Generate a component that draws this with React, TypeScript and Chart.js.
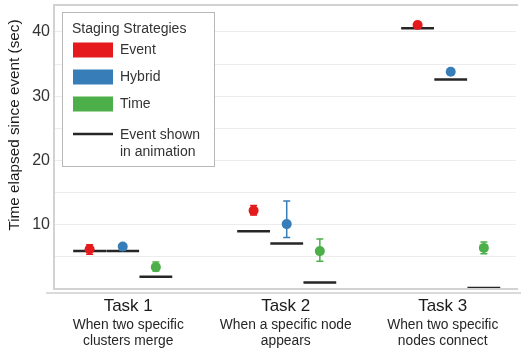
import React, { useEffect, useRef } from "react";
import { Chart, registerables } from "chart.js";

Chart.register(...registerables);

const categories = ["Task 1", "Task 2", "Task 3"];
const subtitles = [
  ["When two specific", "clusters merge"],
  ["When a specific node", "appears"],
  ["When two specific", "nodes connect"],
];
const strategies = ["Event", "Hybrid", "Time"];
const strategyColors = ["#E41A1C", "#377EB8", "#4DAF4A"];

const eventMean = [6.2, 12.2, 41.1];
const eventLow = [5.4, 11.5, 40.7];
const eventHigh = [6.9, 13.0, 41.5];

const hybridMean = [6.6, 10.1, 33.8];
const hybridLow = [6.3, 8.0, 33.5];
const hybridHigh = [7.0, 13.7, 34.1];

const timeMean = [3.4, 5.9, 6.4];
const timeLow = [2.8, 4.3, 5.5];
const timeHigh = [4.2, 7.8, 7.3];

const shownEvent = [5.9, 9.0, 40.6];
const shownHybrid = [5.9, 7.1, 32.6];
const shownTime = [1.9, 1.0, 0.15];

const yTickValues = [5, 10, 15, 20, 25, 30, 35, 40];
const yMin = 0;
const yMax = 44.2;

const legendTitle = "Staging Strategies";
const lineLegendLabel = ["Event shown", "in animation"];
const yTitle = "Time elapsed since event (sec)";

const means = [eventMean, hybridMean, timeMean];
const lows = [eventLow, hybridLow, timeLow];
const highs = [eventHigh, hybridHigh, timeHigh];
const shown = [shownEvent, shownHybrid, shownTime];

const DODGE = [-0.202, 0, 0.202];
const HALF = 0.1;
const FONT = "'Liberation Sans', Arial, Helvetica, sans-serif";
const labelShift = [5.5, -1, -8];

const customPlugin = {
  id: "custom",
  beforeDatasetsDraw(chart: any) {
    const ctx = chart.ctx;
    const xs = chart.scales.x;
    const ys = chart.scales.y;
    ctx.save();
    ctx.lineWidth = 1.5;
    for (let s = 0; s < 3; s++) {
      ctx.strokeStyle = strategyColors[s];
      for (let i = 0; i < categories.length; i++) {
        const x = xs.getPixelForValue(i + DODGE[s]);
        const y1 = ys.getPixelForValue(lows[s][i]);
        const y2 = ys.getPixelForValue(highs[s][i]);
        ctx.beginPath();
        ctx.moveTo(x, y1);
        ctx.lineTo(x, y2);
        ctx.moveTo(x - 3.5, y1);
        ctx.lineTo(x + 3.5, y1);
        ctx.moveTo(x - 3.5, y2);
        ctx.lineTo(x + 3.5, y2);
        ctx.stroke();
      }
    }
    ctx.restore();
  },
  afterDraw(chart: any) {
    const ctx = chart.ctx;
    const a = chart.chartArea;
    const xs = chart.scales.x;
    ctx.save();
    // panel border
    ctx.strokeStyle = "#d2d2d2";
    ctx.lineWidth = 2;
    ctx.beginPath();
    ctx.moveTo(a.right + 2, a.top);
    ctx.lineTo(a.left, a.top);
    ctx.lineTo(a.left, a.bottom);
    ctx.lineTo(a.right + 2, a.bottom);
    ctx.stroke();
    // axis line
    ctx.strokeStyle = "#cfcfcf";
    ctx.lineWidth = 1.5;
    ctx.beginPath();
    ctx.moveTo(46, a.bottom + 4);
    ctx.lineTo(chart.width, a.bottom + 4);
    ctx.stroke();

    // y title
    ctx.fillStyle = "#1a1a1a";
    ctx.font = `15.3px ${FONT}`;
    ctx.textAlign = "center";
    ctx.textBaseline = "middle";
    ctx.save();
    ctx.translate(15, 125);
    ctx.rotate(-Math.PI / 2);
    ctx.fillText(yTitle, 0, 0);
    ctx.restore();

    // x labels
    for (let i = 0; i < categories.length; i++) {
      const x = xs.getPixelForValue(i) + labelShift[i];
      ctx.textBaseline = "alphabetic";
      ctx.fillStyle = "#1a1a1a";
      ctx.font = `17px ${FONT}`;
      ctx.fillText(categories[i], x, a.bottom + 22);
      ctx.fillStyle = "#262626";
      ctx.font = `13.8px ${FONT}`;
      subtitles[i].forEach((t, k) => ctx.fillText(t, x, a.bottom + 40 + k * 16));
    }

    // legend
    const lx = 62, ly = 12, lw = 152, lh = 154;
    ctx.fillStyle = "#ffffff";
    ctx.fillRect(lx, ly, lw, lh);
    ctx.strokeStyle = "#b8b8b8";
    ctx.lineWidth = 1;
    ctx.strokeRect(lx + 0.5, ly + 0.5, lw, lh);
    ctx.textAlign = "left";
    ctx.textBaseline = "middle";
    ctx.fillStyle = "#333333";
    ctx.font = `14px ${FONT}`;
    ctx.fillText(legendTitle, lx + 10, ly + 17);
    for (let s = 0; s < strategies.length; s++) {
      const cy = ly + 38 + s * 27;
      ctx.fillStyle = strategyColors[s];
      ctx.fillRect(lx + 11, cy - 7.5, 40, 15);
      ctx.fillStyle = "#333333";
      ctx.fillText(strategies[s], lx + 58, cy);
    }
    ctx.strokeStyle = "#262626";
    ctx.lineWidth = 2.5;
    ctx.beginPath();
    ctx.moveTo(lx + 11, ly + 122);
    ctx.lineTo(lx + 51, ly + 122);
    ctx.stroke();
    ctx.fillStyle = "#333333";
    ctx.fillText(lineLegendLabel[0], lx + 58, ly + 123);
    ctx.fillText(lineLegendLabel[1], lx + 58, ly + 140);
    ctx.restore();
  },
};

export default function App() {
  const ref = useRef<HTMLCanvasElement | null>(null);
  useEffect(() => {
    if (!ref.current) return;
    const pointSets = strategies.map((name, s) => ({
      label: name,
      data: means[s].map((v, i) => ({ x: i + DODGE[s], y: v })),
      backgroundColor: strategyColors[s],
      borderColor: strategyColors[s],
      pointRadius: 5,
      pointBorderWidth: 0,
      order: 0,
    }));
    const segs: any[] = [];
    for (let s = 0; s < 3; s++) {
      for (let i = 0; i < categories.length; i++) {
        const c = i + DODGE[s];
        segs.push({ x: c - HALF, y: shown[s][i] });
        segs.push({ x: c + HALF, y: shown[s][i] });
        segs.push({ x: c + HALF + 0.001, y: null });
      }
    }
    const chart = new Chart(ref.current, {
      type: "scatter",
      data: {
        datasets: [
          ...pointSets,
          {
            label: "Event shown in animation",
            data: segs,
            showLine: true,
            spanGaps: false,
            borderColor: "#262626",
            borderWidth: 2.5,
            pointRadius: 0,
            order: 10,
          } as any,
        ],
      },
      options: {
        animation: false,
        responsive: false,
        layout: { padding: { top: 4, bottom: 352 - 289, right: 0, left: 0 } },
        plugins: { legend: { display: false }, tooltip: { enabled: false } },
        scales: {
          x: { type: "linear", display: false, min: -0.419, max: 2.398 },
          y: {
            type: "linear",
            min: yMin,
            max: yMax,
            afterBuildTicks: (axis: any) => {
              axis.ticks = yTickValues.map((v) => ({ value: v }));
            },
            afterFit: (axis: any) => {
              axis.width = 54;
              axis.paddingTop = 0;
              axis.paddingBottom = 0;
            },
            grid: { color: "#ececec", lineWidth: 1, drawTicks: false },
            border: { display: false },
            ticks: {
              padding: 4,
              color: "#333333",
              font: { size: 16, family: FONT },
              callback: (v: any) => (Number(v) % 10 === 0 ? String(v) : ""),
            },
          },
        },
      },
      plugins: [customPlugin],
    });
    return () => chart.destroy();
  }, []);
  return (
    <div style={{ position: "absolute", left: 0, top: 0, width: 521, height: 352, background: "#fff" }}>
      <canvas ref={ref} width={521} height={352} />
    </div>
  );
}
